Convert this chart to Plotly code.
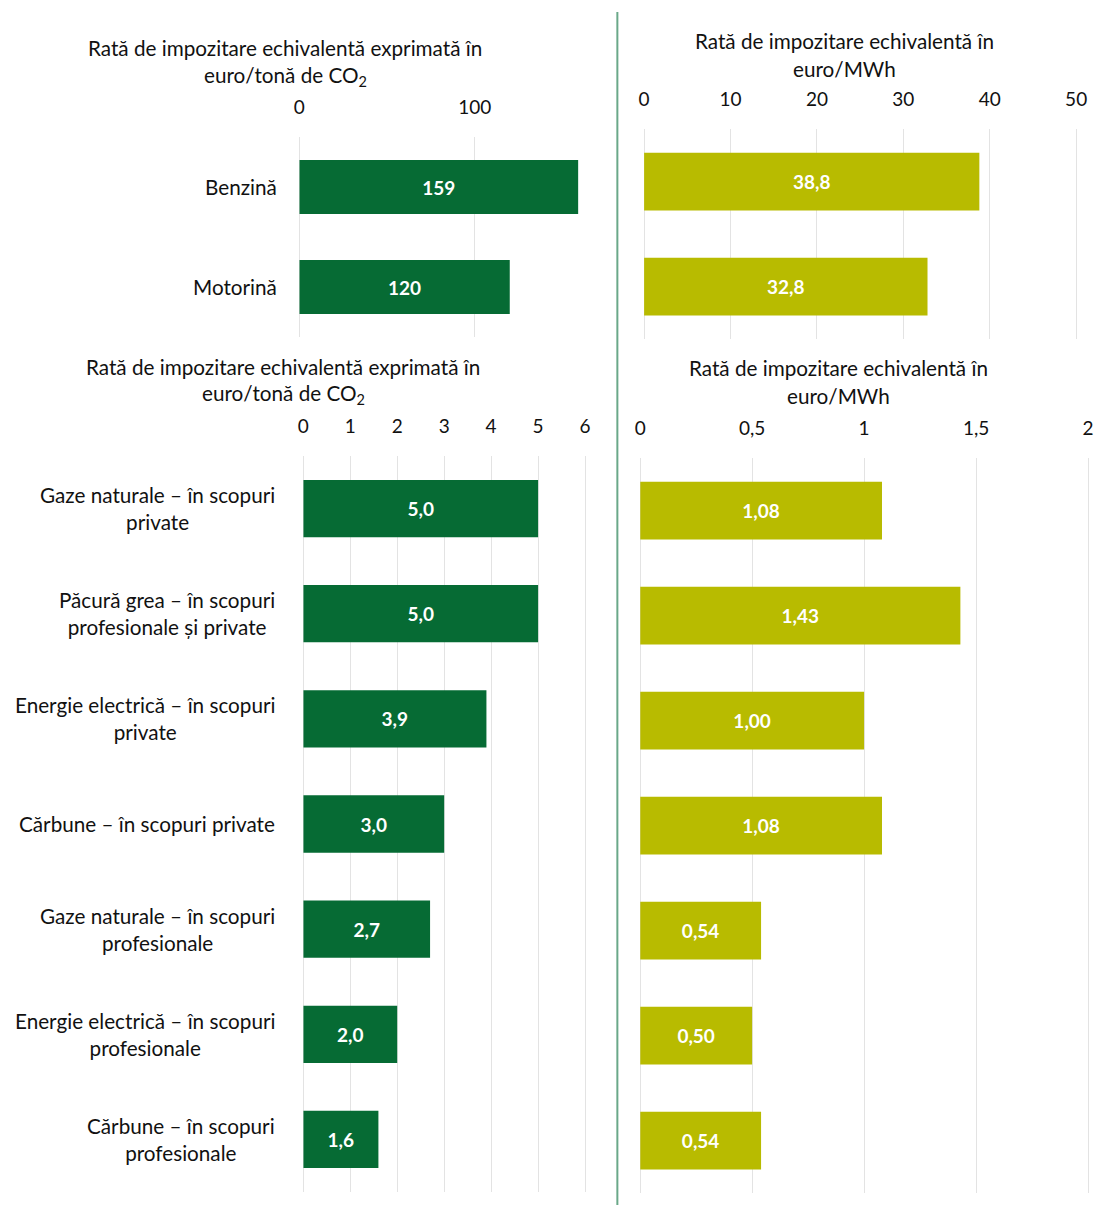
import plotly.graph_objects as go

W, H = 1094, 1205
FONT = "Lato"
TXT = "#111111"
GREEN = "#066b34"
OLIVE = "#b8bb00"
GRID = "#e3e3e3"
LABEL_SIZE = 20.7
TICK_SIZE = 19

# ---- data ----
top_categories = ["Benzină", "Motorină"]
top_co2 = [159, 120]
top_mwh = [38.8, 32.8]

bottom_categories = [
    "Gaze naturale – în scopuri<br>private",
    "Păcură grea – în scopuri<br>profesionale și private",
    "Energie electrică – în scopuri<br>private",
    "Cărbune – în scopuri private",
    "Gaze naturale – în scopuri<br>profesionale",
    "Energie electrică – în scopuri<br>profesionale",
    "Cărbune – în scopuri<br>profesionale",
]
bottom_co2 = [5.0, 5.0, 3.9, 3.0, 2.7, 2.0, 1.6]
bottom_mwh = [1.08, 1.43, 1.00, 1.08, 0.54, 0.50, 0.54]

title_co2 = ["Rată de impozitare echivalentă exprimată în", "euro/tonă de CO<sub>2</sub>"]
title_mwh = ["Rată de impozitare echivalentă în", "euro/MWh"]


def px(x):
    return x / W


def py(y):
    return 1 - y / H


def fmt(values, dec):
    return [f"{v:.{dec}f}".replace(".", ",") for v in values]


fig = go.Figure()

panels = [
    # (axis suffix, categories, values, decimals, colour, bar width, x px domain, y px domain, x max, dtick)
    ("", top_categories, top_co2, 0, GREEN, 0.54, (296, 614.6), (137, 337), 180, 100),
    ("2", top_categories, top_mwh, 1, OLIVE, 0.55, (644, 1094), (129, 339), 50 * 450 / 436, 10),
    ("3", bottom_categories, bottom_co2, 1, GREEN, 0.545, (300, 612), (456, 1192), 312 / 47.4, 1),
    ("4", bottom_categories, bottom_mwh, 2, OLIVE, 0.55, (640, 1094), (458, 1193), 454 / 226, 0.5),
]

for sfx, cats, vals, dec, col, bw, xd, yd, xmax, dtick in panels:
    fig.add_trace(go.Bar(
        x=vals, y=cats, orientation="h",
        xaxis="x" + sfx, yaxis="y" + sfx,
        marker=dict(color=col, line=dict(width=0)),
        width=bw,
        text=fmt(vals, dec), textposition="inside", insidetextanchor="middle",
        constraintext="none",
        textfont=dict(family=FONT, size=19, color="white", weight="bold"),
        hoverinfo="skip", showlegend=False,
    ))
    fig.layout["xaxis" + sfx] = dict(
        domain=[px(xd[0]), px(xd[1])], range=[0, xmax], side="top",
        anchor="y" + sfx, dtick=dtick, tick0=0,
        showgrid=True, gridcolor=GRID, gridwidth=1,
        zeroline=True, zerolinecolor=GRID, zerolinewidth=1,
        showline=False, ticks="", ticklabelstandoff=18,
        ticklabeloverflow="allow",
        tickfont=dict(family=FONT, size=TICK_SIZE, color=TXT),
    )
    fig.layout["yaxis" + sfx] = dict(
        domain=[py(yd[1]), py(yd[0])], anchor="x" + sfx,
        autorange="reversed", showticklabels=False, showgrid=False,
        zeroline=False, showline=False, ticks="",
    )

annotations = []

# axis titles (two lines each)
for lines, cx, y0 in [(title_co2, 282, 48), (title_mwh, 846, 41),
                      (title_co2, 280, 367), (title_mwh, 840, 368)]:
    for i, line in enumerate(lines):
        annotations.append(dict(
            text=line, x=px(cx), y=py(y0 + 28 * i), xref="paper", yref="paper",
            xanchor="center", yanchor="middle", showarrow=False,
            font=dict(family=FONT, size=LABEL_SIZE, color=TXT),
        ))

# category labels, top panel
for cat in top_categories:
    annotations.append(dict(
        text=cat, x=px(276), y=cat, xref="paper", yref="y",
        xanchor="right", yanchor="middle", showarrow=False,
        font=dict(family=FONT, size=LABEL_SIZE, color=TXT),
    ))

# category labels, bottom panel: block right-aligned, lines centred on each other
for cat in bottom_categories:
    annotations.append(dict(
        text=cat, x=px(274), y=cat, xref="paper", yref="y3",
        xanchor="right", yanchor="middle", align="center", showarrow=False,
        font=dict(family=FONT, size=LABEL_SIZE, color=TXT),
    ))

fig.update_layout(
    width=W, height=H, margin=dict(l=0, r=0, t=0, b=0),
    paper_bgcolor="white", plot_bgcolor="white",
    separators=",.",
    annotations=annotations,
    shapes=[dict(type="line", xref="paper", yref="paper",
                 x0=px(617), x1=px(617), y0=py(12), y1=0,
                 line=dict(color="#6aa889", width=2))],
)

# clip the last tick label at the right edge instead of widening the page
fig.write_html(
    "out.html",
    post_script=(
        "var gd = document.getElementById('{plot_id}');"
        "gd.style.position = 'relative';"
        "gd.style.overflow = 'hidden';"
        "gd.style.width = '1094px';"
        "var sc = gd.querySelector('.svg-container');"
        "if (sc) { sc.style.overflow = 'hidden'; }"
        "gd.querySelectorAll('svg.main-svg').forEach(function (s) { s.style.overflow = 'hidden'; });"
        "document.documentElement.style.overflow = 'hidden';"
        "document.body.style.overflow = 'hidden';"
    ),
)
